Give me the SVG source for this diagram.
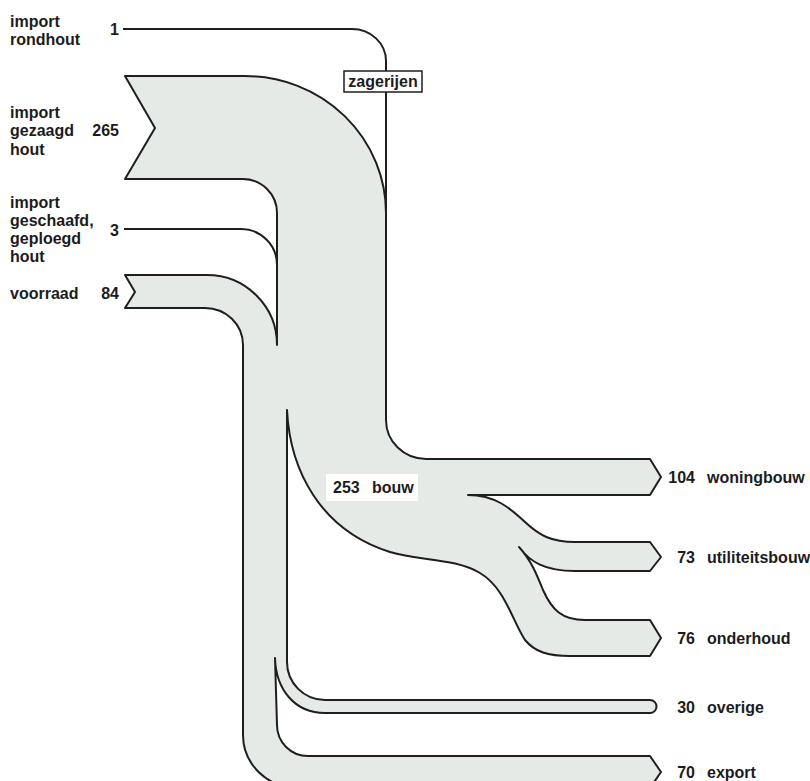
<svg xmlns="http://www.w3.org/2000/svg" width="810" height="781" viewBox="0 0 810 781">
<style>
text{font-family:"Liberation Sans",Arial,sans-serif;font-weight:bold;font-size:16px;fill:#1c1c1c}
.num{text-anchor:end}
.flow{fill:#e6eae7;stroke:#1e1e1e;stroke-width:2;stroke-linejoin:round}
.line{fill:none;stroke:#1e1e1e;stroke-width:2}
</style>
<rect width="810" height="781" fill="#ffffff"/>
<g id="connectors">
<path class="flow" d="M125,76 L245,76 A141,137 0 0 1 386,213 L386,420 A40,39 0 0 0 426,459 L650,459 L661,477 L650,495 L468,495 C495,495 510,508 525,522 C540,536 552,542 575,542 L650,542 L661,557 L650,571 L575,571 C545,571 530,562 519,547 C531,560 537,575 543,590 C552,610 562,620 585,620 L650,620 L661,638 L650,656 L570,656 C548,656 535,652 525,640 C512,620 505,588 480,573 C455,558 420,561 390,552 C320,530 290,470 287,410 L287,662 A38,38 0 0 0 325,700 L650,700 A6.5,6.5 0 0 1 650,713 L325,713 C295,713 276,690 275,658 L277,725 A31,31 0 0 0 308,756 L650,756 L661,772 L650,788 L298,788 A55,53 0 0 1 243,735 L243,345 A38,37 0 0 0 205,308 L125,308 L135,292 L125,275 L207,275 A70,70 0 0 1 277,345 L277,213 A34,34 0 0 0 243,179 L125,179 L155,128 Z"/>
<path class="line" d="M123,29 L352,29 A34,32 0 0 1 386,61 L386,71 M386,92 L386,214"/>
<path class="line" d="M124,229 L241,229 A36,36 0 0 1 277,265"/>
</g>
<g id="zagerijen">
<rect x="344" y="71" width="78" height="21" fill="#ffffff" stroke="#1e1e1e" stroke-width="1.5"/>
<text x="383" y="87" text-anchor="middle">zagerijen</text>
</g>
<g id="import-rondhout">
<text x="10" y="27">import</text>
<text x="10" y="45">rondhout</text>
<text class="num" x="119" y="35">1</text>
</g>
<g id="import-gezaagd">
<text x="10" y="118">import</text>
<text x="10" y="136">gezaagd</text>
<text x="10" y="155">hout</text>
<text class="num" x="119" y="136">265</text>
</g>
<g id="import-geschaafd">
<text x="10" y="208">import</text>
<text x="10" y="226">geschaafd,</text>
<text x="10" y="244">geploegd</text>
<text x="10" y="262">hout</text>
<text class="num" x="119" y="236">3</text>
</g>
<g id="voorraad">
<text x="10" y="299">voorraad</text>
<text class="num" x="119" y="299">84</text>
</g>
<g id="bouw">
<rect x="326" y="474" width="92" height="27" fill="#ffffff"/>
<text x="333" y="493">253</text>
<text x="372" y="493">bouw</text>
</g>
<g id="woningbouw">
<text class="num" x="695" y="483">104</text>
<text x="707" y="483">woningbouw</text>
</g>
<g id="utiliteitsbouw">
<text class="num" x="695" y="563">73</text>
<text x="707" y="563">utiliteitsbouw</text>
</g>
<g id="onderhoud">
<text class="num" x="695" y="644">76</text>
<text x="707" y="644">onderhoud</text>
</g>
<g id="overige">
<text class="num" x="695" y="713">30</text>
<text x="707" y="713">overige</text>
</g>
<g id="export">
<text class="num" x="695" y="778">70</text>
<text x="707" y="778">export</text>
</g>
</svg>
